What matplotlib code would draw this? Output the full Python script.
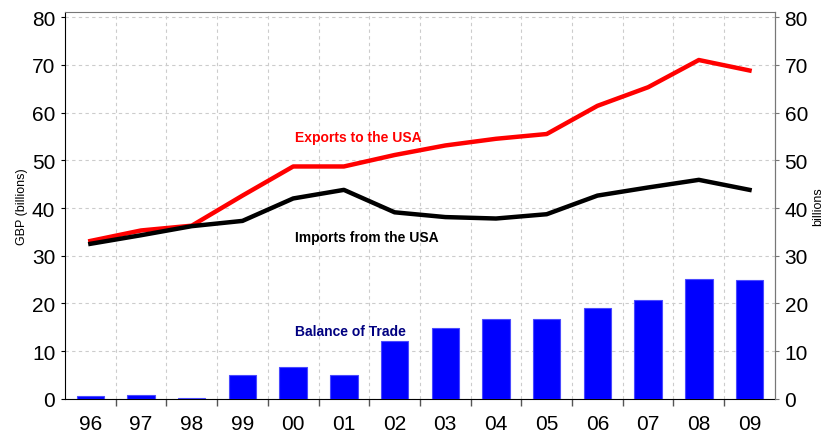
import numpy as np
import matplotlib.pyplot as plt
from matplotlib.ticker import FixedLocator

plt.rcParams['font.family'] = ['Liberation Sans', 'DejaVu Sans']

years = ['96', '97', '98', '99', '00', '01', '02', '03', '04', '05', '06', '07', '08', '09']
exports = [33.1, 35.3, 36.3, 42.6, 48.7, 48.7, 51.1, 53.1, 54.5, 55.5, 61.4, 65.3, 71.0, 68.8]
imports = [32.5, 34.3, 36.2, 37.3, 42.0, 43.8, 39.1, 38.1, 37.8, 38.7, 42.6, 44.3, 45.9, 43.8]
balance = [0.6, 0.85, 0.2, 5.0, 6.8, 5.0, 12.1, 14.8, 16.8, 16.8, 19.0, 20.8, 25.1, 25.0]

x = np.arange(len(years))

fig = plt.figure(figsize=(8.27, 4.35), dpi=100)
ax = fig.add_axes([0.0786, 0.0805, 0.8584, 0.889])

ax.bar(x, balance, width=0.54, color='#0000ff', edgecolor='#4a4aff', linewidth=0.8, zorder=3)
ax.plot(x, exports, color='#ff0000', linewidth=3.2, zorder=4)
ax.plot(x, imports, color='#000000', linewidth=3.2, zorder=4)

ax.set_xlim(-0.5, len(years) - 0.5)
ax.set_ylim(0, 81)
ax.set_yticks(range(0, 81, 10))
ax.set_xticks(x)
ax.set_xticklabels(years)
ax.xaxis.set_minor_locator(FixedLocator(np.arange(0.5, len(years) - 1, 1)))
ax.tick_params(axis='x', which='major', length=0, pad=11, labelsize=15)
ax.tick_params(axis='x', which='minor', length=5, width=1, direction='out', color='#555555')
ax.tick_params(axis='y', length=3, pad=4, labelsize=15)
ax.grid(axis='x', which='minor', linestyle=(0, (3, 3)), linewidth=0.8, color='#cccccc', zorder=0)
ax.grid(axis='y', which='major', linestyle=(0, (3, 3)), linewidth=0.8, color='#cccccc', zorder=0)
ax.set_axisbelow(True)

ax.spines['top'].set_color('#777777')
ax.spines['right'].set_color('#777777')
ax.spines['left'].set_color('#000000')
ax.spines['bottom'].set_color('#000000')
ax.set_ylabel('GBP (billions)', fontsize=9, labelpad=3)

ax2 = ax.twinx()
ax2.set_ylim(ax.get_ylim())
ax2.set_yticks(range(0, 81, 10))
ax2.tick_params(axis='y', length=3, pad=4, labelsize=15, color='#777777')
ax2.spines['right'].set_color('#777777')
ax2.spines['top'].set_visible(False)
ax2.spines['left'].set_visible(False)
ax2.spines['bottom'].set_visible(False)
ax2.set_ylabel('billions', fontsize=9, rotation=90, labelpad=3)

ax.text(4.04, 54.9, 'Exports to the USA', color='#ff0000', fontsize=10, fontweight='bold', va='center', zorder=5)
ax.text(4.04, 34.0, 'Imports from the USA', color='#000000', fontsize=10, fontweight='bold', va='center', zorder=5)
ax.text(4.04, 14.2, 'Balance of Trade', color='#000080', fontsize=10, fontweight='bold', va='center', zorder=5)

fig.savefig('out.png', dpi=100)
